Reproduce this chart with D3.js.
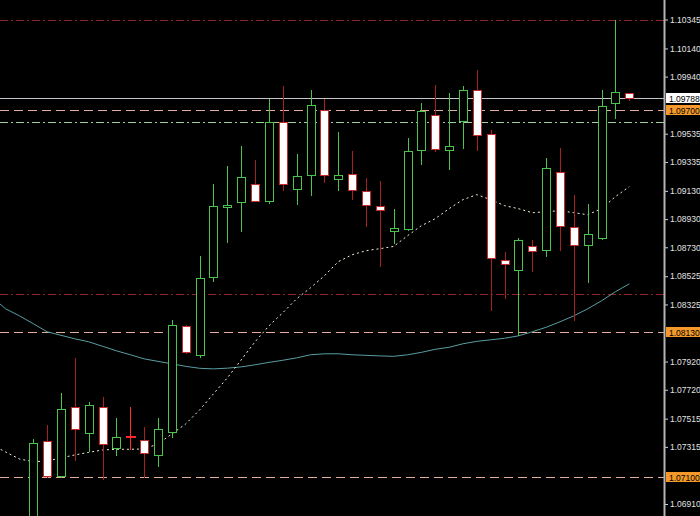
<!DOCTYPE html>
<html><head><meta charset="utf-8">
<script src="https://cdn.jsdelivr.net/npm/d3@7"></script>
<style>html,body{margin:0;padding:0;background:#000;overflow:hidden}svg{display:block}</style>
</head><body>
<svg id="chart" width="700" height="516"></svg>
<script>
// ---- data (EURUSD-style candles) ----
const opens  = [1.06750,1.07357,1.07111,1.07596,1.07416,1.07596,1.07310,1.07383,1.07364,1.07258,
                1.07419,1.08173,1.07968,1.08519,1.09018,1.09048,1.09181,1.09060,1.09616,1.09146,
                1.09243,1.09701,1.09217,1.09250,1.09131,1.09025,1.08848,1.08860,1.09422,1.09671,
                1.09422,1.09623,1.09848,1.09536,1.08642,1.08566,1.08736,1.08713,1.09266,1.08874,
                1.08746,1.08796,1.09754,1.09825];
const highs  = [1.07371,1.07471,1.07696,1.07948,1.07636,1.07667,1.07523,1.07601,1.07459,1.07518,
                1.08216,1.08180,1.08665,1.09181,1.09309,1.09451,1.09351,1.09782,1.09877,1.09394,
                1.09848,1.09784,1.09545,1.09410,1.09222,1.09197,1.09002,1.09503,1.09754,1.09884,
                1.09825,1.09872,1.09990,1.09564,1.08694,1.08796,1.08784,1.09364,1.09434,1.09103,
                1.09039,1.09843,1.10340,1.09827];
const lows   = [1.06700,1.07104,1.07104,1.07222,1.07288,1.07088,1.07258,1.07298,1.07100,1.07180,
                1.07388,1.07982,1.07955,1.08488,1.08765,1.08843,1.09055,1.09044,1.09134,1.09039,
                1.09103,1.09190,1.09139,1.09073,1.08878,1.08594,1.08760,1.08855,1.09323,1.09410,
                1.09285,1.09434,1.09417,1.08282,1.08370,1.08110,1.08559,1.08670,1.08713,1.08211,
                1.08481,1.08790,1.09647,1.09777];
const closes = [1.07341,1.07111,1.07582,1.07442,1.07613,1.07336,1.07383,1.07383,1.07274,1.07440,
                1.08176,1.07991,1.08512,1.09025,1.09030,1.09229,1.09060,1.09619,1.09179,1.09233,
                1.09742,1.09245,1.09245,1.09134,1.09032,1.08997,1.08864,1.09410,1.09694,1.09427,
                1.09446,1.09848,1.09529,1.08654,1.08611,1.08784,1.08706,1.09293,1.08878,1.08748,
                1.08826,1.09730,1.09829,1.09788];

// moving averages start 3 bars before the first visible candle
const maStartIndex = -3;
const maFast = [1.07329,1.07279,1.07229,
                1.07210,1.07215,1.07237,1.07258,1.07276,1.07293,1.07298,1.07298,1.07300,1.07336,
                1.07407,1.07478,1.07577,1.07691,1.07804,1.07932,1.08060,1.08173,1.08266,1.08365,
                1.08443,1.08528,1.08628,1.08677,1.08706,1.08720,1.08736,1.08812,1.08883,1.08933,
                1.09004,1.09068,1.09103,1.09068,1.09025,1.09004,1.08975,1.08982,1.08990,1.08975,
                1.08961,1.09004,1.09089,1.09160];
const maSlow = [1.08379,1.08294,1.08244,
                1.08188,1.08131,1.08106,1.08081,1.08060,1.08028,1.07996,1.07968,1.07939,1.07921,
                1.07904,1.07886,1.07872,1.07868,1.07873,1.07882,1.07897,1.07914,1.07929,1.07946,
                1.07968,1.07975,1.07975,1.07968,1.07964,1.07960,1.07957,1.07968,1.07985,1.08007,
                1.08021,1.08046,1.08063,1.08074,1.08085,1.08102,1.08131,1.08163,1.08202,1.08244,
                1.08294,1.08351,1.08415,1.08471];

const tickLabels = [1.10345,1.10140,1.09940,1.09535,1.09335,1.09130,1.08930,1.08730,1.08525,
                    1.08325,1.07920,1.07720,1.07515,1.07315,1.06910];
const levelValues = [1.10345,1.09788,1.09700,1.09620,1.08400,1.08130,1.07100];
const bidPrice = 1.09788;
const markedLevels = [1.09700,1.08130,1.07100];

// ---- layout / styles ----
const W = 700, H = 516, plotRight = 664;
const levelStyles = [
  {color:"#8e2626", dash:"8,3,2,3"},
  {color:"#c4c4cc", dash:null},
  {color:"#e2ad9a", dash:"9,5"},
  {color:"#9fcf9f", dash:"8,3,2,3"},
  {color:"#8e2626", dash:"8,3,2,3"},
  {color:"#e2ad9a", dash:"9,5"},
  {color:"#e2ad9a", dash:"9,5"}
];
const bullColor = "#4cc44c", bearColor = "#c42a2a", bearWick = "#a82020", dojiColor = "#ff2b2b";

const svg = d3.select("#chart");
svg.append("rect").attr("width", W).attr("height", H).attr("fill", "#000");

const y = d3.scaleLinear().domain([1.06910, 1.10345]).range([504, 19.5]);
const x = d3.scaleLinear().domain([0, 43]).range([33.3, 629.3]);
const px = v => Math.round(x(v)) + 0.5;
const py = v => Math.round(y(v)) + 0.5;

svg.append("clipPath").attr("id", "plot").append("rect")
  .attr("x", 0).attr("y", 0).attr("width", plotRight).attr("height", H);
const plot = svg.append("g").attr("clip-path", "url(#plot)");

// horizontal levels
plot.selectAll("line.level").data(levelValues).join("line")
  .attr("class", "level")
  .attr("x1", 0).attr("x2", plotRight)
  .attr("y1", d => py(d)).attr("y2", d => py(d))
  .attr("stroke", (d, i) => levelStyles[i].color)
  .attr("stroke-width", 1)
  .attr("stroke-dasharray", (d, i) => levelStyles[i].dash);

// moving averages
const maLine = d3.line().x((d, i) => x(i + maStartIndex)).y(d => y(d));
plot.append("path").datum(maSlow).attr("d", maLine)
  .attr("fill", "none").attr("stroke", "#5a9ea2").attr("stroke-width", 1);
plot.append("path").datum(maFast).attr("d", maLine)
  .attr("fill", "none").attr("stroke", "#f2f2d8").attr("stroke-width", 1)
  .attr("stroke-dasharray", "2,3");

// candles
const candles = opens.map((o, i) => ({i, o, h: highs[i], l: lows[i], c: closes[i]}));
const g = plot.selectAll("g.candle").data(candles).join("g").attr("class", "candle");
g.append("line")
  .attr("x1", d => px(d.i)).attr("x2", d => px(d.i))
  .attr("y1", d => Math.round(y(d.h))).attr("y2", d => Math.round(y(d.l)) + 1)
  .attr("stroke", d => d.c > d.o ? bullColor : (d.c === d.o ? dojiColor : bearWick))
  .attr("stroke-width", 1);
g.filter(d => d.c !== d.o).append("rect")
  .attr("x", d => px(d.i) - 4)
  .attr("y", d => py(Math.max(d.o, d.c)))
  .attr("width", 8)
  .attr("height", d => Math.max(1, Math.round(y(Math.min(d.o, d.c))) - Math.round(y(Math.max(d.o, d.c)))))
  .attr("fill", d => d.c > d.o ? "#000" : "#fff")
  .attr("stroke", d => d.c > d.o ? bullColor : bearColor)
  .attr("stroke-width", 1);
g.filter(d => d.c === d.o).append("line")
  .attr("x1", d => px(d.i) - 4.5).attr("x2", d => px(d.i) + 5.5)
  .attr("y1", d => Math.round(y(d.o))).attr("y2", d => Math.round(y(d.o)))
  .attr("stroke", dojiColor).attr("stroke-width", 2);

// price axis
const axis = d3.axisRight(y).tickValues(tickLabels).tickFormat(d3.format(".5f"))
  .tickSize(3).tickPadding(2);
const ax = svg.append("g").attr("transform", `translate(${plotRight + 1},0)`).call(axis);
ax.select(".domain").remove();
ax.selectAll(".tick line").attr("stroke", "#d0d0d0");
ax.selectAll(".tick text").attr("fill", "#e2e2e2")
  .attr("font-family", "Liberation Sans, Arial, sans-serif").attr("font-size", 8.5);
svg.append("line").attr("x1", plotRight + 0.5).attr("x2", plotRight + 0.5)
  .attr("y1", 0).attr("y2", H).attr("stroke", "#b4b4b4").attr("stroke-width", 2);

// highlighted price labels
const tags = [{v: bidPrice, fill: "#ffffff"}].concat(markedLevels.map(v => ({v, fill: "#f59a2a"})));
const tg = svg.selectAll("g.tag").data(tags).join("g").attr("class", "tag");
tg.append("rect").attr("x", plotRight + 2).attr("width", W - plotRight - 2)
  .attr("y", d => Math.round(y(d.v)) - 5).attr("height", 10).attr("fill", d => d.fill);
tg.append("text").attr("x", plotRight + 5).attr("y", d => Math.round(y(d.v)) + 3.5)
  .attr("font-family", "Liberation Sans, Arial, sans-serif").attr("font-size", 8.5)
  .attr("fill", "#000").text(d => d3.format(".5f")(d.v));
</script>
</body></html>
